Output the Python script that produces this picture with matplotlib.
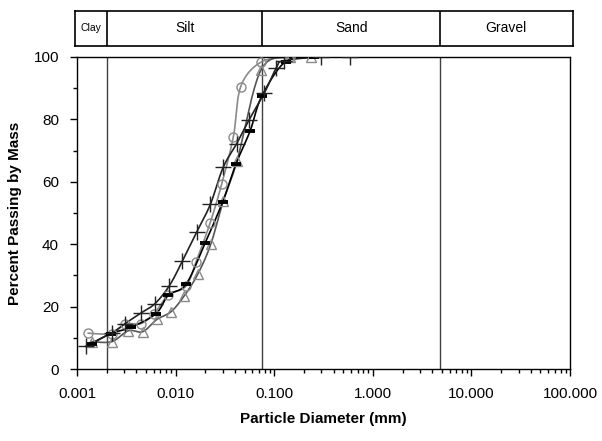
import numpy as np
import matplotlib
matplotlib.use("Agg")
import matplotlib.pyplot as plt
from matplotlib.ticker import FixedLocator, FixedFormatter, LogLocator, NullFormatter

plt.rcParams['font.family'] = ['Liberation Sans', 'DejaVu Sans']

# ---- data ----
plus_d = [0.00122, 0.00225, 0.00307, 0.00446, 0.00618, 0.00863, 0.0117, 0.0164,
          0.0225, 0.0303, 0.0415, 0.0555, 0.0795, 0.105, 0.125, 0.30, 0.58]
plus_p = [7.3, 11.6, 14.6, 18.0, 21.0, 26.7, 34.6, 44.0,
          52.8, 64.6, 72.2, 79.8, 88.5, 96.5, 98.8, 100, 100]

dash_d = [0.00141, 0.00221, 0.00353, 0.00633, 0.00843, 0.01275, 0.0199, 0.0300,
          0.0410, 0.0569, 0.0747, 0.130, 0.25]
dash_p = [8.2, 11.4, 13.4, 17.8, 23.7, 27.2, 40.4, 53.6,
          65.8, 76.3, 87.4, 98.5, 100]

circ_d = [0.0013, 0.00225, 0.00307, 0.00446, 0.00604, 0.0084, 0.01275, 0.0161,
          0.0223, 0.0293, 0.0385, 0.0457, 0.073, 0.145]
circ_p = [11.5, 11.4, 14.4, 14.6, 17.8, 23.7, 26.6, 34.4,
          46.7, 59.3, 74.5, 90.5, 98.3, 100]

tri_d = [0.00141, 0.00225, 0.00331, 0.00464, 0.00644, 0.00898, 0.01217, 0.01675,
         0.0227, 0.0305, 0.0420, 0.073, 0.145, 0.235]
tri_p = [8.8, 8.8, 12.3, 12.0, 15.9, 18.4, 23.4, 30.4,
         40.0, 54.0, 66.8, 95.7, 100, 100]

bounds = [0.001, 0.002, 0.075, 4.75, 100]
classes = ["Clay", "Silt", "Sand", "Gravel"]
xtick_vals = [0.001, 0.01, 0.1, 1, 10, 100]
xtick_labels = ["0.001", "0.010", "0.100", "1.000", "10.000", "100.000"]


def smooth(xs, ys, n=20):
    """Catmull-Rom style smoothing in (log10 x, y) for drawing the line."""
    lx = np.log10(np.asarray(xs, float))
    y = np.asarray(ys, float)
    px = np.concatenate([[lx[0]], lx, [lx[-1]]])
    py = np.concatenate([[y[0]], y, [y[-1]]])
    ox, oy = [], []
    t = np.linspace(0, 1, n, endpoint=False)
    for i in range(1, len(px) - 2):
        p0x, p1x, p2x, p3x = px[i-1], px[i], px[i+1], px[i+2]
        p0y, p1y, p2y, p3y = py[i-1], py[i], py[i+1], py[i+2]
        c1x = p1x + (p2x - p0x) / 6; c1y = p1y + (p2y - p0y) / 6
        c2x = p2x - (p3x - p1x) / 6; c2y = p2y - (p3y - p1y) / 6
        bx = (1-t)**3*p1x + 3*(1-t)**2*t*c1x + 3*(1-t)*t**2*c2x + t**3*p2x
        by = (1-t)**3*p1y + 3*(1-t)**2*t*c1y + 3*(1-t)*t**2*c2y + t**3*p2y
        ox.extend(bx); oy.extend(by)
    ox.append(lx[-1]); oy.append(y[-1])
    return 10**np.array(ox), np.array(oy)


fig = plt.figure(figsize=(6.02, 4.41), dpi=100)
ax = fig.add_axes([0.128, 0.163, 0.819, 0.708])

ax.set_xscale('log')
ax.set_xlim(0.001, 100)
ax.set_ylim(0, 100)

for b in bounds[1:-1]:
    ax.axvline(b, color='#404040', lw=1.0, zorder=1)

gray = '#8a8a8a'
series = [
    (circ_d, circ_p, 'o', gray, gray, 6.5, 1.0),
    (tri_d, tri_p, '^', '#555555', gray, 7.5, 1.0),
    (dash_d, dash_p, '_', 'black', 'black', 7, 2.8),
    (plus_d, plus_p, '+', '#222222', '#222222', 11, 1.0),
]
for d, p, m, lc, mc, ms, mew in series:
    sx, sy = smooth(d, p)
    ax.plot(sx, sy, color=lc, lw=1.2, zorder=2)
    ax.plot(d, p, linestyle='none', marker=m, ms=ms, mfc='none', mec=mc,
            mew=mew, zorder=3)

ax.xaxis.set_major_locator(FixedLocator(xtick_vals))
ax.xaxis.set_major_formatter(FixedFormatter(xtick_labels))
ax.xaxis.set_minor_locator(LogLocator(base=10, subs=np.arange(2, 10)))
ax.xaxis.set_minor_formatter(NullFormatter())
ax.set_yticks([0, 20, 40, 60, 80, 100])
ax.set_yticks(np.arange(10, 100, 20), minor=True)
ax.tick_params(axis='both', which='major', direction='out', length=5,
               labelsize=11, width=1, pad=8)
ax.tick_params(axis='both', which='minor', direction='out', length=3, width=1)
for s in ax.spines.values():
    s.set_linewidth(1.0)

ax.set_xlabel("Particle Diameter (mm)", fontsize=11, fontweight='bold', labelpad=8)
ax.set_ylabel("Percent Passing by Mass", fontsize=11, fontweight='bold', labelpad=8)

# header box with soil classes
hx = fig.add_axes([0.1245, 0.896, 0.827, 0.079])
hx.set_xscale('log')
hx.set_xlim(0.00094, 106)
hx.set_ylim(0, 1)
hx.set_xticks([]); hx.set_yticks([])
hx.minorticks_off()
for b in bounds[1:-1]:
    hx.axvline(b, color='black', lw=1.2)
for s in hx.spines.values():
    s.set_linewidth(1.2)
edges = [0.00094, 0.002, 0.075, 4.75, 106]
for i, c in enumerate(classes):
    xc = 10**((np.log10(edges[i]) + np.log10(edges[i+1])) / 2)
    hx.text(xc, 0.5, c, ha='center', va='center', fontsize=7.5 if c == "Clay" else 10)

fig.savefig("out.png", dpi=100)
